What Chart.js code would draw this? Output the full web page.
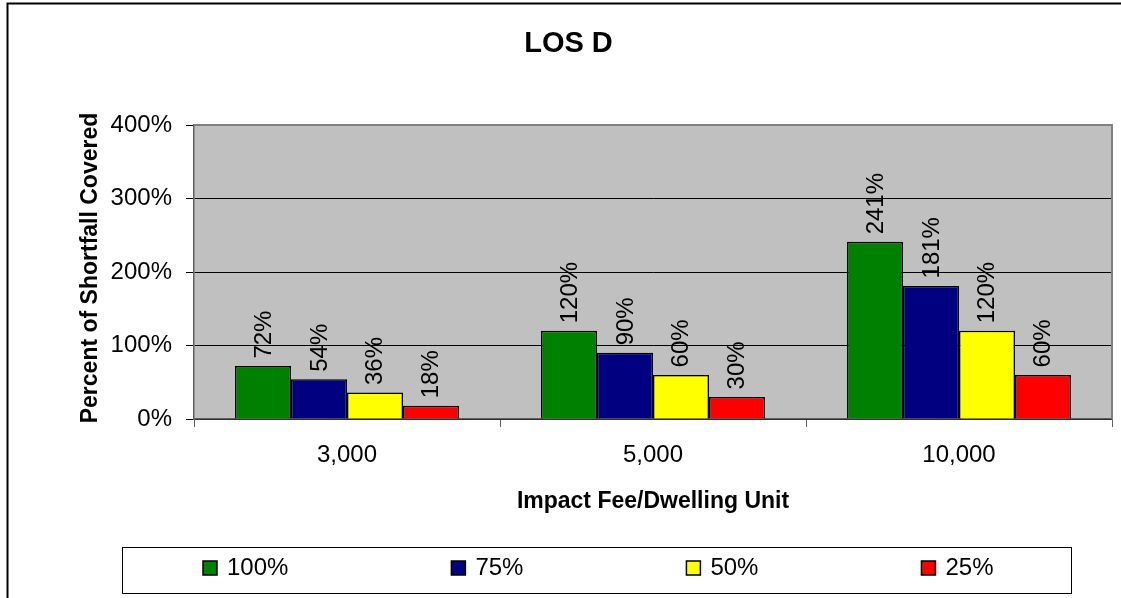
<!DOCTYPE html>
<html>
<head>
<meta charset="utf-8">
<script src="https://cdn.jsdelivr.net/npm/chart.js@4/dist/chart.umd.min.js"></script>
<style>
  html, body { margin: 0; padding: 0; background: #fff; }
  #wrap { width: 1121px; height: 598px; position: relative; }
</style>
</head>
<body>
<div id="wrap"><canvas id="c"></canvas></div>
<script>
// Impact fee levels (per dwelling unit)
const categories = ['3,000', '5,000', '10,000'];
// Share of the fee collected
const seriesNames = ['100%', '75%', '50%', '25%'];
// Percent of shortfall covered, per fee level
const covered100 = [72, 120, 241];
const covered75 = [54, 90, 181];
const covered50 = [36, 60, 120];
const covered25 = [18, 30, 60];
const yTickValues = [0, 100, 200, 300, 400];
const seriesColors = ['#008000', '#000080', '#FFFF00', '#FF0000'];

const FONT = '"Liberation Sans", Arial, Helvetica, sans-serif';

const decorations = {
  id: 'decorations',
  beforeDraw(chart) {
    const { ctx, chartArea: a } = chart;
    ctx.save();
    ctx.fillStyle = '#C0C0C0';
    ctx.fillRect(a.left, a.top, a.right - a.left, a.bottom - a.top);
    ctx.restore();
  },
  beforeDatasetsDraw(chart) {
    const { ctx, chartArea: a } = chart;
    ctx.save();
    ctx.strokeStyle = '#808080';
    ctx.lineWidth = 2;
    ctx.beginPath();
    ctx.moveTo(a.left, a.top);
    ctx.lineTo(a.right, a.top);
    ctx.lineTo(a.right, a.bottom);
    ctx.stroke();
    ctx.restore();
  },
  afterDatasetsDraw(chart) {
    const ctx = chart.ctx;
    ctx.save();
    ctx.fillStyle = '#000';
    ctx.font = '24px ' + FONT;
    ctx.textAlign = 'left';
    ctx.textBaseline = 'alphabetic';
    chart.data.datasets.forEach((ds, di) => {
      const meta = chart.getDatasetMeta(di);
      meta.data.forEach((bar, i) => {
        ctx.save();
        ctx.translate(bar.x + 7.5, bar.y - 7.5);
        ctx.rotate(-Math.PI / 2);
        ctx.fillText(ds.data[i] + '%', 0, 0);
        ctx.restore();
      });
    });
    ctx.restore();
  },
  afterDraw(chart) {
    const { ctx, chartArea: a } = chart;
    ctx.save();
    ctx.fillStyle = '#000';
    ctx.textBaseline = 'alphabetic';
    ctx.textAlign = 'center';

    // Chart title
    ctx.font = 'bold 29px ' + FONT;
    ctx.fillText('LOS D', 568.5, 52);

    // Axis titles
    ctx.font = 'bold 23px ' + FONT;
    ctx.fillText('Impact Fee/Dwelling Unit', (a.left + a.right) / 2, 508);
    ctx.save();
    ctx.translate(97, 268);
    ctx.rotate(-Math.PI / 2);
    ctx.fillText('Percent of Shortfall Covered', 0, 0);
    ctx.restore();

    // Legend box
    ctx.strokeStyle = '#000';
    ctx.lineWidth = 1;
    ctx.strokeRect(122.5, 547.5, 949, 46);
    ctx.font = '24px ' + FONT;
    ctx.textAlign = 'left';
    const sw = 14, gapText = 10, gapItem = 163;
    const items = chart.data.datasets.map(d => ({
      label: d.label,
      color: d.backgroundColor,
      w: sw + gapText + ctx.measureText(d.label).width
    }));
    const total = items.reduce((s, it) => s + it.w, 0) + gapItem * (items.length - 1);
    let x = Math.round(598 - total / 2);
    const cy = 568;
    items.forEach(it => {
      ctx.fillStyle = it.color;
      ctx.fillRect(x, cy - 7, sw, sw);
      ctx.strokeStyle = '#000';
      ctx.lineWidth = 1.5;
      ctx.strokeRect(x, cy - 7, sw, sw);
      ctx.fillStyle = '#000';
      ctx.fillText(it.label, x + sw + gapText, 575);
      x += it.w + gapItem;
    });

    // Outer frame
    ctx.strokeStyle = '#000';
    ctx.lineWidth = 2;
    ctx.beginPath();
    ctx.moveTo(7.5, 598);
    ctx.lineTo(7.5, 3.5);
    ctx.lineTo(1121, 3.5);
    ctx.stroke();
    ctx.restore();
  }
};

const seriesValues = [covered100, covered75, covered50, covered25];

new Chart(document.getElementById('c'), {
  type: 'bar',
  data: {
    labels: categories,
    datasets: seriesNames.map((name, i) => ({
      label: name,
      data: seriesValues[i],
      backgroundColor: seriesColors[i],
      borderColor: '#000',
      borderWidth: 1.5,
      categoryPercentage: 0.732,
      barPercentage: 1.0
    }))
  },
  options: {
    responsive: true,
    maintainAspectRatio: false,
    devicePixelRatio: 1,
    animation: false,
    layout: { padding: { left: 20, right: 9, top: 125, bottom: 119 } },
    plugins: {
      legend: { display: false },
      title: { display: false },
      tooltip: { enabled: false }
    },
    scales: {
      x: {
        offset: true,
        grid: {
          offset: true,
          drawOnChartArea: false,
          drawTicks: true,
          tickLength: 8,
          color: '#606060',
          lineWidth: 1
        },
        border: { display: true, color: '#606060', width: 1.5 },
        ticks: { color: '#000', font: { family: FONT, size: 24 }, padding: 14 },
        afterFit(s) { s.height = 60; }
      },
      y: {
        min: 0,
        max: 400,
        afterBuildTicks(s) { s.ticks = yTickValues.map(v => ({ value: v })); },
        grid: {
          color: c => (c.tick && c.tick.value === 400) ? '#808080' : '#000',
          tickColor: '#000',
          tickLength: 8,
          lineWidth: 1
        },
        border: { display: true, color: '#606060', width: 1.5 },
        ticks: {
          color: '#000',
          font: { family: FONT, size: 24 },
          padding: 14,
          callback: v => v + '%'
        },
        afterFit(s) { s.width = 174; }
      }
    }
  },
  plugins: [decorations]
});
</script>
</body>
</html>
